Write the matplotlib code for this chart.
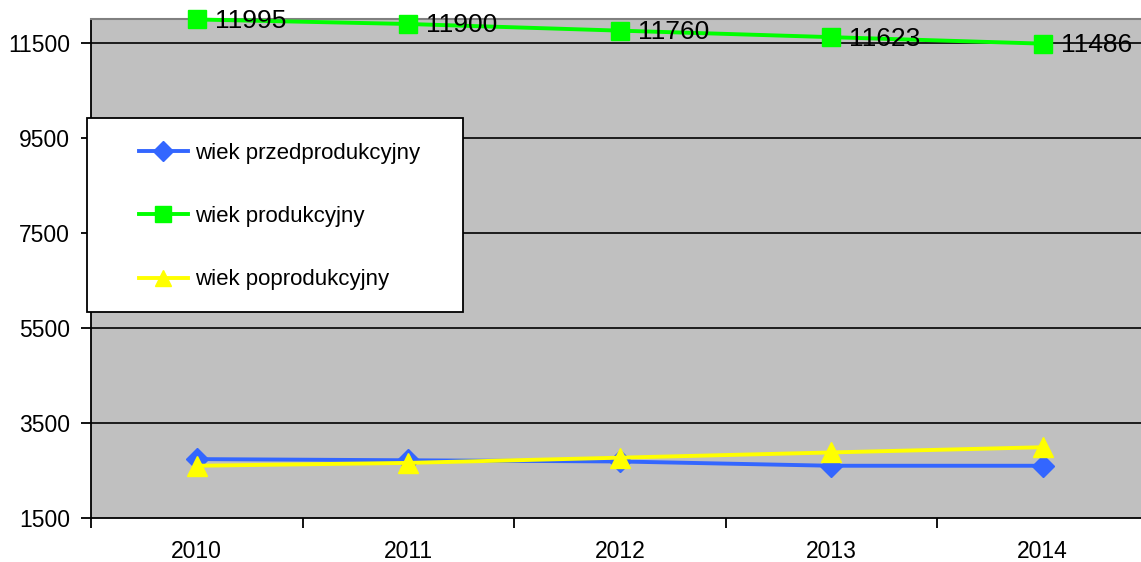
import matplotlib.pyplot as plt
from matplotlib.patches import Rectangle

plt.rcParams['font.family'] = ['Liberation Sans', 'DejaVu Sans']

years = ['2010', '2011', '2012', '2013', '2014']
przed = [2740, 2715, 2690, 2600, 2600]
prod = [11995, 11900, 11760, 11623, 11486]
popr = [2600, 2660, 2770, 2880, 2990]
yticks = [1500, 3500, 5500, 7500, 9500, 11500]

W, H = 1141, 562
fig = plt.figure(figsize=(W / 100, H / 100), dpi=100)
# plot area: x 91..1148 px, y 19..518 px
ax = fig.add_axes([91 / W, (H - 518) / H, 1057.5 / W, 499 / H])
ax.set_facecolor('#C0C0C0')

x = list(range(len(years)))
ax.plot(x, przed, color='#3366FF', lw=2.8, marker='D', ms=11.5,
        label='wiek przedprodukcyjny', zorder=3, clip_on=False)
ax.plot(x, prod, color='#00FF00', lw=2.8, marker='s', ms=13,
        label='wiek produkcyjny', zorder=3, clip_on=False)
ax.plot(x, popr, color='#FFFF00', lw=2.8, marker='^', ms=14,
        label='wiek poprodukcyjny', zorder=4, clip_on=False)

for xi, v in zip(x, prod):
    ax.annotate(str(v), (xi, v), xytext=(13, -1), textcoords='offset points',
                va='center', ha='left', fontsize=19, zorder=5)

ax.set_xlim(-0.5, 4.5)
ax.set_ylim(1500, 12005)
ax.set_yticks(yticks)
ax.set_yticklabels([str(t) for t in yticks], fontsize=16.5)
ax.set_xticks(x)
ax.set_xticklabels(years, fontsize=16.5)
ax.set_xticks([i - 0.5 for i in range(len(years) + 1)], minor=True)
ax.tick_params(axis='x', which='major', length=0, pad=16)
ax.tick_params(axis='x', which='minor', length=7, width=1.3, direction='out')
ax.tick_params(axis='y', length=7, width=1.3, direction='out', pad=8)

for t in yticks[1:]:
    ax.axhline(t, color='black', lw=1.2, zorder=1)

for s in ['left', 'bottom']:
    ax.spines[s].set_color('black')
    ax.spines[s].set_linewidth(1.3)
ax.spines['top'].set_color('#808080')
ax.spines['top'].set_linewidth(1.5)
ax.spines['right'].set_visible(False)

# legend box
fig.patches.append(Rectangle((87 / W, (H - 312) / H), 376 / W, 194 / H,
                             transform=fig.transFigure, facecolor='white',
                             edgecolor='black', lw=1.3, zorder=10))
leg = fig.legend(loc='upper left', bbox_to_anchor=(139 / W, (H - 143) / H),
                 frameon=False, fontsize=16, handlelength=2.2,
                 handletextpad=0.3, labelspacing=1.9, borderpad=0,
                 borderaxespad=0, markerscale=0.85)
leg.set_zorder(11)

fig.savefig('out.png', dpi=100)
